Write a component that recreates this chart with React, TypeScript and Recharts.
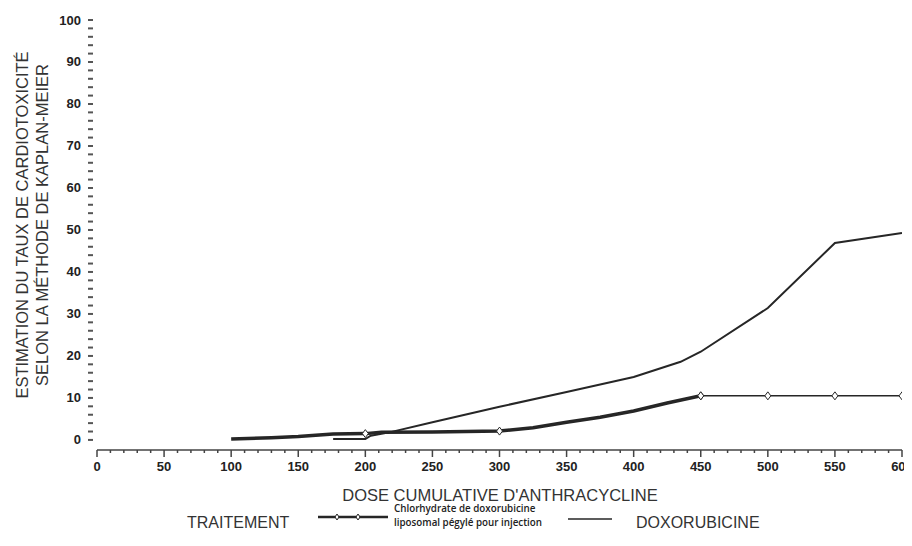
import React from "react";
import { LineChart, Line, XAxis, YAxis } from "recharts";

// Estimated Kaplan-Meier cardiotoxicity rates (%) by cumulative anthracycline dose
const liposomalDose = [100, 130, 150, 176, 200, 212, 250, 300, 325, 350, 375, 400, 425, 450, 500, 550, 600];
const liposomalRate = [0.2, 0.5, 0.8, 1.4, 1.5, 1.8, 1.9, 2.1, 2.9, 4.2, 5.4, 6.9, 8.8, 10.5, 10.5, 10.5, 10.5];
const liposomalMarkers = [200, 300, 450, 500, 550, 600];

const doxoDose = [176, 200, 204, 218, 250, 300, 350, 400, 435, 450, 500, 550, 600];
const doxoRate = [0.2, 0.2, 1.0, 1.8, 4.2, 7.9, 11.4, 15.0, 18.6, 21.0, 31.4, 46.9, 49.3];

const xTicks = Array.from({ length: 61 }, (_, i) => i * 10);
const yTicks = Array.from({ length: 51 }, (_, i) => i * 2);

const yTitle1 = "ESTIMATION DU TAUX DE CARDIOTOXICITÉ";
const yTitle2 = "SELON LA MÉTHODE DE KAPLAN-MEIER";
const xTitle = "DOSE CUMULATIVE D'ANTHRACYCLINE";
const legendTitle = "TRAITEMENT";
const seriesName1a = "Chlorhydrate de doxorubicine";
const seriesName1b = "liposomal pégylé pour injection";
const seriesName2 = "DOXORUBICINE";

const liposomalA = liposomalDose
  .map((d, i) => ({ dose: d, rate: liposomalRate[i] }))
  .filter((p) => p.dose <= 450);
const liposomalB = liposomalDose
  .map((d, i) => ({ dose: d, rate: liposomalRate[i] }))
  .filter((p) => p.dose >= 450);
const doxo = doxoDose.map((d, i) => ({ dose: d, rate: doxoRate[i] }));

const INK = "#262626";
const FONT = "'Liberation Sans', Arial, sans-serif";

const Diamond = (props: any) => {
  const { cx, cy, payload, index } = props;
  if (!payload || !liposomalMarkers.includes(payload.dose) || cx == null) {
    return <g key={"e" + index} />;
  }
  return (
    <g key={"m" + index}>
      <path
        d={`M${cx},${cy - 4} L${cx + 3},${cy} L${cx},${cy + 4} L${cx - 3},${cy} Z`}
        fill="#fff"
        stroke={INK}
        strokeWidth={1}
      />
    </g>
  );
};

const YTick = (props: any) => {
  const { x, y, payload } = props;
  const v = payload.value;
  return (
    <g>
      <line x1={x - 9} x2={x - 4} y1={y} y2={y} stroke="#555" strokeWidth={2} />
      {v % 10 === 0 && (
        <text
          x={x - 16}
          y={y}
          textAnchor="end"
          dominantBaseline="central"
          fontFamily={FONT}
          fontWeight="bold"
          fontSize={13}
          fill="#222"
        >
          {v}
        </text>
      )}
    </g>
  );
};

const XTick = (props: any) => {
  const { x, y, payload } = props;
  const v = payload.value;
  const major = v % 50 === 0;
  return (
    <g>
      <line x1={x} x2={x} y1={y} y2={y + (major ? 7 : 3)} stroke="#444" strokeWidth={1.5} />
      {major && (
        <text
          x={x}
          y={y + 16}
          textAnchor="middle"
          dominantBaseline="central"
          fontFamily={FONT}
          fontWeight="bold"
          fontSize={13}
          fill="#222"
        >
          {v}
        </text>
      )}
    </g>
  );
};

export default function App() {
  return (
    <div style={{ position: "relative", width: 900, height: 528, fontFamily: FONT }}>
      <LineChart
        width={900}
        height={528}
        margin={{ top: 12, right: 6, left: 0, bottom: 56 }}
      >
        <XAxis
          type="number"
          dataKey="dose"
          domain={[0, 600]}
          ticks={xTicks}
          interval={0}
          tickSize={0}
          tickMargin={0}
          tickLine={false}
          tick={<XTick />}
          axisLine={{ stroke: "#444", strokeWidth: 1.5 }}
          height={30}
          allowDataOverflow
        />
        <YAxis
          type="number"
          dataKey="rate"
          domain={[-2.4, 100]}
          ticks={yTicks}
          interval={0}
          tickSize={0}
          tickMargin={0}
          tickLine={false}
          axisLine={false}
          tick={<YTick />}
          width={89}
          allowDataOverflow
        />
        <Line
          data={doxo}
          dataKey="rate"
          type="linear"
          stroke={INK}
          strokeWidth={2}
          dot={false}
          isAnimationActive={false}
        />
        <Line
          data={liposomalA}
          dataKey="rate"
          type="linear"
          stroke={INK}
          strokeWidth={3.5}
          dot={<Diamond />}
          isAnimationActive={false}
        />
        <Line
          data={liposomalB}
          dataKey="rate"
          type="linear"
          stroke={INK}
          strokeWidth={1.5}
          dot={<Diamond />}
          isAnimationActive={false}
        />
      </LineChart>

      {/* Y axis title */}
      <div
        style={{
          position: "absolute",
          left: 24,
          top: 217,
          transform: "translate(-50%, -50%) rotate(-90deg)",
          whiteSpace: "nowrap",
          textAlign: "center",
          fontSize: 16.5,
          lineHeight: "20px",
          color: "#333",
        }}
      >
        <div>{yTitle1}</div>
        <div>{yTitle2}</div>
      </div>

      {/* X axis title */}
      <div
        style={{
          position: "absolute",
          left: 492,
          top: 487,
          transform: "translate(-50%, -50%)",
          whiteSpace: "nowrap",
          fontSize: 16.5,
          color: "#333",
        }}
      >
        {xTitle}
      </div>

      {/* Legend */}
      <div
        style={{
          position: "absolute",
          left: 179,
          top: 515,
          transform: "translateY(-50%)",
          whiteSpace: "nowrap",
          fontSize: 16,
          color: "#333",
        }}
      >
        {legendTitle}
      </div>
      <svg style={{ position: "absolute", left: 308, top: 502 }} width={76} height={14}>
        <line x1={2} x2={72} y1={7} y2={7} stroke={INK} strokeWidth={2.5} />
        <path d="M21,4 L23,7 L21,10 L19,7 Z" fill="#fff" stroke={INK} strokeWidth={1} />
        <path d="M42,4 L44,7 L42,10 L40,7 Z" fill="#fff" stroke={INK} strokeWidth={1} />
      </svg>
      <div
        style={{
          position: "absolute",
          left: 386,
          top: 494,
          whiteSpace: "nowrap",
          fontFamily: "'Open Sans', 'Noto Sans', sans-serif",
          fontWeight: 600,
          fontSize: 9.8,
          lineHeight: "14px",
          color: "#222",
        }}
      >
        <div>{seriesName1a}</div>
        <div>{seriesName1b}</div>
      </div>
      <svg style={{ position: "absolute", left: 558, top: 504 }} width={50} height={14}>
        <line x1={2} x2={46} y1={7} y2={7} stroke={INK} strokeWidth={1.5} />
      </svg>
      <div
        style={{
          position: "absolute",
          left: 628,
          top: 515,
          transform: "translateY(-50%)",
          whiteSpace: "nowrap",
          fontSize: 16,
          color: "#333",
        }}
      >
        {seriesName2}
      </div>
    </div>
  );
}
